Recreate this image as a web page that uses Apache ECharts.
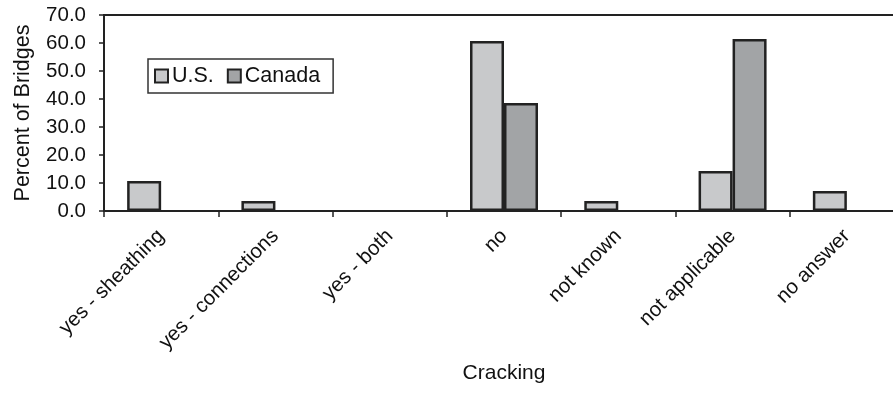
<!DOCTYPE html>
<html>
<head>
<meta charset="utf-8">
<script src="https://cdn.jsdelivr.net/npm/echarts@6/dist/echarts.min.js"></script>
<style>
  html, body { margin: 0; padding: 0; background: #fff; }
  #chart { width: 893px; height: 396px; }
</style>
</head>
<body>
<div id="chart"></div>
<script>
// Survey responses on cracking, percent of bridges by country
const categories = ['yes - sheathing', 'yes - connections', 'yes - both', 'no', 'not known', 'not applicable', 'no answer'];
const usValues = [10.7, 3.6, 0, 60.7, 3.6, 14.3, 7.1];
const canadaValues = [0, 0, 0, 38.6, 0, 61.4, 0];
const yTicks = { min: 0, max: 70, interval: 10 };

const FONT = 'Liberation Sans, Arial, sans-serif';
const INK = '#222';

const chart = echarts.init(document.getElementById('chart'), null, { renderer: 'canvas' });

const barStyle = (color) => ({
  color: color,
  borderColor: INK,
  borderWidth: 2.5
});

// zero-height bars get no outline so nothing is drawn on the baseline
const withEmptyZeros = (values) =>
  values.map((v) => (v === 0 ? { value: v, itemStyle: { borderWidth: 0 } } : v));

chart.setOption({
  animation: false,
  backgroundColor: '#fff',
  textStyle: { fontFamily: FONT, color: '#111' },
  grid: {
    left: 104, top: 15, width: 800, height: 196,
    outerBoundsMode: 'none',
    containLabel: false,
    show: true, borderColor: INK, borderWidth: 2, backgroundColor: 'transparent'
  },
  legend: {
    left: 148, top: 59,
    orient: 'horizontal',
    padding: [6, 13, 6, 6],
    itemGap: 13,
    itemWidth: 13, itemHeight: 13,
    icon: 'rect',
    borderColor: '#333', borderWidth: 1.5,
    textStyle: { fontFamily: FONT, fontSize: 21.5, color: '#111', padding: [0, 0, 0, -1] },
    data: ['U.S.', 'Canada']
  },
  xAxis: {
    type: 'category',
    data: categories,
    name: 'Cracking',
    nameLocation: 'middle',
    nameGap: 152,
    nameTextStyle: { fontFamily: FONT, fontSize: 21, color: '#111' },
    axisLine: { lineStyle: { color: INK, width: 2 } },
    axisTick: { show: true, length: 6, lineStyle: { color: INK, width: 1.5 } },
    axisLabel: { rotate: 45, margin: 22, fontFamily: FONT, fontSize: 20.5, color: '#111', interval: 0 },
    splitLine: { show: false }
  },
  yAxis: {
    type: 'value',
    min: yTicks.min, max: yTicks.max, interval: yTicks.interval,
    name: 'Percent of Bridges',
    nameLocation: 'middle',
    nameGap: 70,
    nameTextStyle: { fontFamily: FONT, fontSize: 21.5, color: '#111' },
    axisLine: { show: true, lineStyle: { color: INK, width: 2 } },
    axisTick: { show: true, length: 5, lineStyle: { color: INK, width: 1.5 } },
    axisLabel: { margin: 18, fontFamily: FONT, fontSize: 20.5, color: '#111', formatter: (v) => v.toFixed(1) },
    splitLine: { show: false }
  },
  series: [
    {
      name: 'U.S.', type: 'bar', data: withEmptyZeros(usValues),
      barWidth: 34, barGap: '0%',
      itemStyle: barStyle('#c8c9cb')
    },
    {
      name: 'Canada', type: 'bar', data: withEmptyZeros(canadaValues),
      barWidth: 34, barGap: '0%',
      itemStyle: barStyle('#a2a4a6')
    }
  ]
});
</script>
</body>
</html>
